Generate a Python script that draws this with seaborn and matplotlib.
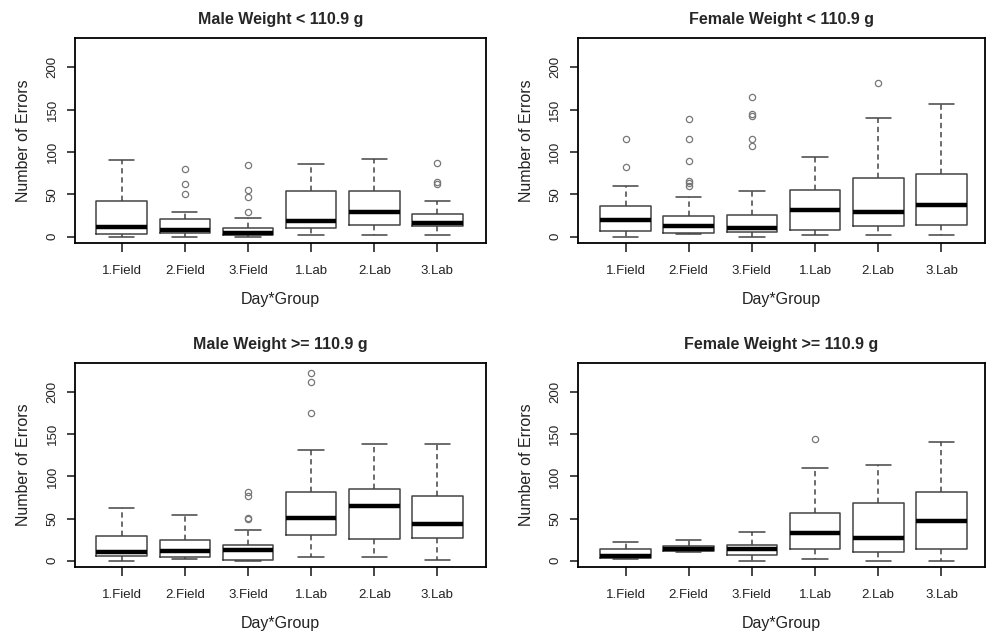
import numpy as np
import pandas as pd
import seaborn as sns
import matplotlib.pyplot as plt

groups = ["1.Field", "2.Field", "3.Field", "1.Lab", "2.Lab", "3.Lab"]
titles = ["Male Weight < 110.9 g", "Female Weight < 110.9 g",
          "Male Weight >= 110.9 g", "Female Weight >= 110.9 g"]

# box summaries (lower whisker, Q1, median, Q3, upper whisker, outliers)
male_light_low = [0, 0, 0, 2, 2, 2]
male_light_q1 = [3, 4, 2, 10, 14, 13]
male_light_med = [11, 8, 4, 18.5, 29.5, 16.6]
male_light_q3 = [42, 21, 10, 54, 54, 26.5]
male_light_high = [91, 29, 21.5, 86, 91.5, 42.5]
male_light_out = [[], [50, 62, 80], [29, 47, 55, 84], [], [], [62, 64, 87]]

female_light_low = [0, 3, 0, 2, 2, 2]
female_light_q1 = [7, 4.7, 5, 7.5, 12.6, 14]
female_light_med = [19.7, 12, 10.7, 31, 29.6, 37.5]
female_light_q3 = [36, 24.5, 26, 55, 69, 73.8]
female_light_high = [59.6, 46.5, 53.6, 94, 140, 156]
female_light_out = [[82, 115.6], [60, 63, 66, 89, 115.6, 139],
                    [106.5, 115.6, 143, 145, 165], [], [181], []]

male_heavy_low = [0, 2.4, 0, 4, 4, 1.2]
male_heavy_q1 = [5, 4.3, 1.2, 31, 26, 26.4]
male_heavy_med = [10.7, 11.4, 12.6, 51, 64.7, 44]
male_heavy_q3 = [29, 24.5, 19, 81, 85.6, 77]
male_heavy_high = [63, 54, 36, 131, 138, 138]
male_heavy_out = [[], [], [49, 50.5, 77, 82], [175, 212, 223], [], []]

female_heavy_low = [1.6, 10, 0, 1.6, 0, 0]
female_heavy_q1 = [3.5, 11, 6.7, 13.4, 10.6, 13.8]
female_heavy_med = [5.5, 13.8, 13.8, 32.7, 27, 46.5]
female_heavy_q3 = [13.4, 17.3, 18.5, 56, 68.5, 82]
female_heavy_high = [22, 24, 34, 109.4, 113.8, 141]
female_heavy_out = [[], [], [], [144], [], []]

panels = [
    (male_light_low, male_light_q1, male_light_med, male_light_q3, male_light_high, male_light_out),
    (female_light_low, female_light_q1, female_light_med, female_light_q3, female_light_high, female_light_out),
    (male_heavy_low, male_heavy_q1, male_heavy_med, male_heavy_q3, male_heavy_high, male_heavy_out),
    (female_heavy_low, female_heavy_q1, female_heavy_med, female_heavy_q3, female_heavy_high, female_heavy_out),
]


def expand(low, q1, med, q3, high, out, k=20):
    # observations whose quartiles / whiskers reproduce the read summary
    return [low] + [q1] * k + [med] * k + [q3] * k + [high] + list(out)


rows = []
for p, (lo, q1, md, q3, hi, out) in enumerate(panels):
    for i, g in enumerate(groups):
        for v in expand(lo[i], q1[i], md[i], q3[i], hi[i], out[i]):
            rows.append((p, g, v))
df = pd.DataFrame(rows, columns=["panel", "group", "errors"])

sns.set_style("ticks")
plt.rcParams["font.family"] = ["Liberation Sans", "DejaVu Sans"]

fig = plt.figure(figsize=(9.89, 6.34), dpi=100)
W, H = 989, 634
# axes rectangles in pixels: left, top, right, bottom
rects = [(75, 38, 486, 243), (577.5, 38, 985, 243),
         (75, 363, 486, 567), (577.5, 363, 985, 567)]
xlims = [(-0.74, 5.77), (-0.76, 5.69), (-0.74, 5.77), (-0.76, 5.69)]

for p in range(4):
    l, t, r, b = rects[p]
    ax = fig.add_axes([l / W, 1 - b / H, (r - l) / W, (b - t) / H])
    sns.boxplot(data=df[df.panel == p], x="group", y="errors", order=groups, ax=ax,
                width=0.8, fill=False, color="#444444", linewidth=1.1, whis=1.5,
                fliersize=4.5, capwidths=0.4,
                medianprops=dict(color="black", linewidth=3.2),
                whiskerprops=dict(linestyle=(0, (3.5, 2.5))),
                flierprops=dict(marker="o", markerfacecolor="none",
                                markeredgecolor="#777777", markeredgewidth=0.9))
    ax.set_xlim(*xlims[p])
    ax.set_ylim(-7.5, 234.5)
    ax.set_yticks([0, 50, 100, 150, 200])
    ax.set_title(titles[p], fontsize=11.5, fontweight="bold", pad=10)
    ax.set_xlabel("Day*Group", fontsize=11.5, labelpad=11, color="#222222")
    ax.set_ylabel("Number of Errors", fontsize=11.5, labelpad=11, color="#222222")
    ax.tick_params(axis="x", length=6.5, width=1.2, pad=9, labelsize=9.5, labelcolor="#222222")
    ax.tick_params(axis="y", length=5.8, width=1.2, pad=6, labelsize=9.5, labelcolor="#222222")
    for lab in ax.get_yticklabels():
        lab.set_rotation(90)
        lab.set_va("center")
    for s in ax.spines.values():
        s.set_visible(True)
        s.set_linewidth(1.3)
        s.set_color("black")

fig.savefig("out.png", dpi=100)
